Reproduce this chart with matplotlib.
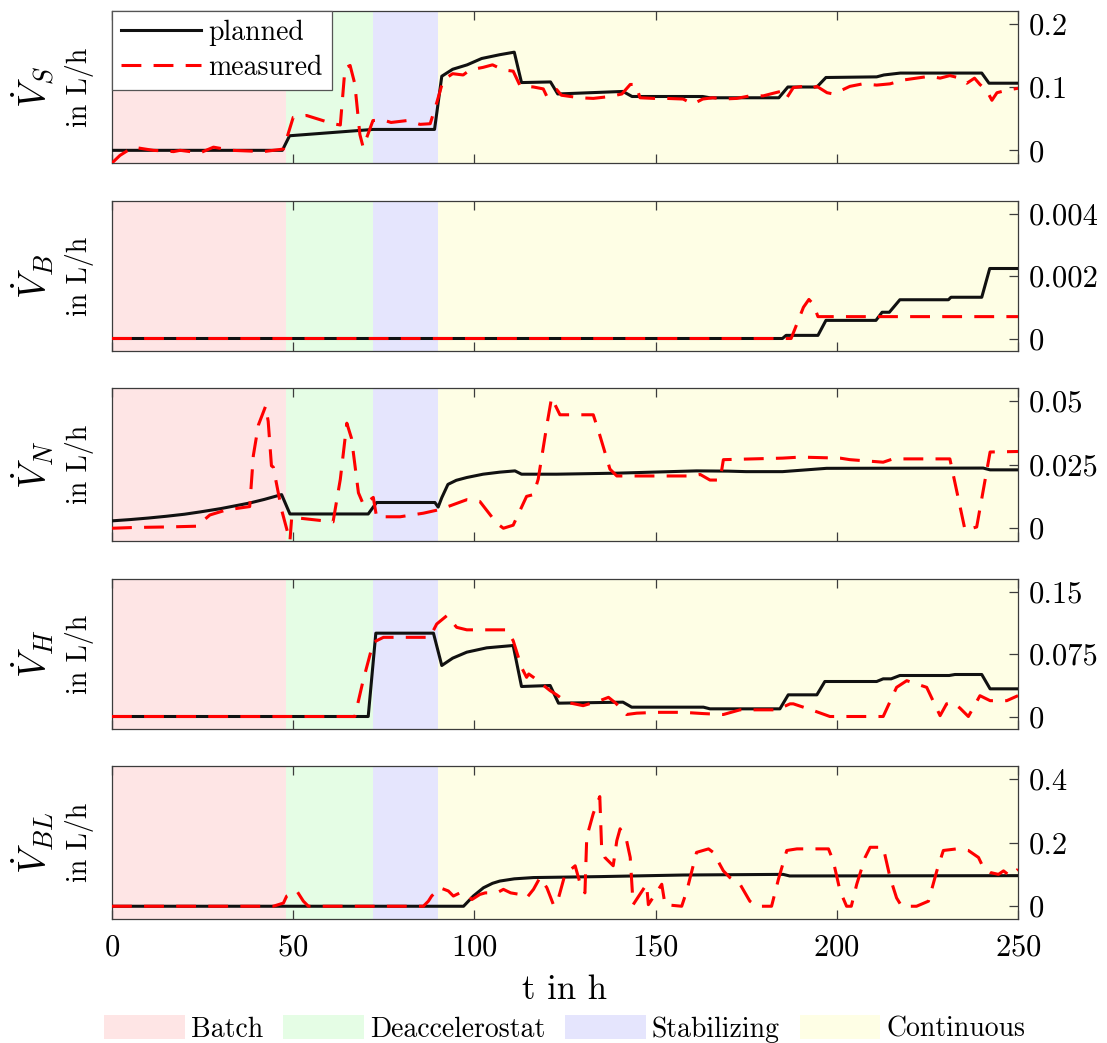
import matplotlib
matplotlib.use("Agg")
import matplotlib.pyplot as plt
from matplotlib.patches import Patch

plt.rcParams["font.family"] = "cmr10"
plt.rcParams["mathtext.fontset"] = "cm"
plt.rcParams["axes.formatter.use_mathtext"] = True

# ---------------------------------------------------------------- data
phases = ["Batch", "Deaccelerostat", "Stabilizing", "Continuous"]
phase_edges = [0, 48, 72, 90, 250]
phase_colors = ["#fee5e5", "#e5fde5", "#e5e5fd", "#fefee5"]

S_planned = [(0, 0), (47, 0), (49, 0.023), (72, 0.033), (89, 0.033), (91, 0.117),
             (94, 0.128), (98, 0.135), (102, 0.145), (107, 0.151), (111, 0.155),
             (113, 0.107), (121, 0.108), (123, 0.089), (141, 0.093), (143.5, 0.085),
             (163, 0.085), (165, 0.083), (184, 0.083), (186.5, 0.1), (194.5, 0.1),
             (197, 0.115), (211, 0.116), (213, 0.119), (217.5, 0.122), (240, 0.122),
             (242, 0.106), (250, 0.106)]
S_measured = [(0, -0.02), (2.2, -0.008), (5.8, 0.005), (11.4, 0.0), (17, -0.002),
              (18.8, 0.0), (24.3, -0.004), (28, 0.005), (33, 0.0), (41.8, -0.002),
              (44.5, 0.0), (47.3, 0.002), (50, 0.052), (53.7, 0.055), (56.5, 0.05),
              (61, 0.042), (63, 0.04), (64.3, 0.13), (65.7, 0.134), (67, 0.105),
              (68.4, 0.025), (69.3, 0.005), (70.6, 0.025), (72, 0.047), (74.8, 0.048),
              (77, 0.044), (81.4, 0.047), (85, 0.041), (87.8, 0.042), (89.6, 0.075),
              (91.4, 0.111), (94, 0.121), (96.9, 0.119), (98.8, 0.127), (102.4, 0.131),
              (105, 0.135), (108, 0.127), (110.7, 0.125), (112.6, 0.102), (116.3, 0.1),
              (119, 0.097), (120, 0.085), (122.7, 0.096), (124, 0.087), (129, 0.083),
              (132.8, 0.082), (137.4, 0.085), (140.7, 0.089), (143, 0.104),
              (144.5, 0.104), (145.7, 0.083), (149.4, 0.082), (153, 0.082),
              (157.6, 0.081), (160.3, 0.073), (163, 0.081), (165.8, 0.083),
              (168.6, 0.081), (172.4, 0.082), (176, 0.086), (179.7, 0.086),
              (182.4, 0.09), (185.2, 0.094), (186.2, 0.083), (188, 0.099),
              (190.7, 0.101), (192.6, 0.097), (194.5, 0.101), (197.3, 0.091),
              (199, 0.089), (201, 0.094), (203.6, 0.101), (207.2, 0.105), (211, 0.103),
              (214.7, 0.105), (218.3, 0.111), (222, 0.114), (225.7, 0.117),
              (228.5, 0.114), (231.2, 0.118), (234, 0.114), (235.9, 0.106),
              (238, 0.114), (239.5, 0.104), (241.4, 0.094), (242.8, 0.079),
              (244.2, 0.091), (247, 0.095), (250, 0.098)]

B_planned = [(0, 0), (185, 0), (186, 0.0001), (194.8, 0.0001), (197, 0.00058),
             (210.8, 0.00058), (212.5, 0.00084), (214.5, 0.00084), (217.4, 0.00124),
             (230.8, 0.00124), (231.5, 0.00132), (240, 0.00132), (242.2, 0.00224),
             (250, 0.00224)]
B_measured = [(0, 0), (187.4, 0), (190.8, 0.001), (192.3, 0.00125), (193.5, 0.0011),
              (194.8, 0.0007), (250, 0.0007)]

N_planned = [(0, 0.0029), (5, 0.0034), (10, 0.004), (15, 0.0047), (20, 0.0055),
             (24.3, 0.0064), (30, 0.0077), (34, 0.0088), (38, 0.0099), (42, 0.0113),
             (46.8, 0.0132), (49.1, 0.0056), (70.7, 0.0056), (73, 0.0101),
             (89.1, 0.0101), (90, 0.0083), (91, 0.012), (92.7, 0.0172), (95, 0.0188),
             (97.9, 0.0199), (102.4, 0.0212), (107, 0.022), (111.2, 0.0225),
             (113, 0.0212), (122.7, 0.0212), (139.3, 0.0216), (161.3, 0.0225),
             (170, 0.0224), (175, 0.0222), (185, 0.0222), (197.2, 0.0235),
             (240.4, 0.0236), (242.3, 0.0229), (250, 0.0229)]
N_measured = [(0, 0.0), (6, 0.0003), (15, 0.0005), (23.4, 0.0008), (27, 0.0052),
              (31.6, 0.0072), (38, 0.0085), (39, 0.0285), (40.4, 0.0405),
              (42.4, 0.0479), (43.1, 0.0419), (44, 0.0245), (44.5, 0.024),
              (46.8, 0.0072), (49.1, -0.005), (49.6, 0.0045), (51.5, 0.004),
              (61, 0.0025), (63, 0.0192), (64.8, 0.0412), (66.1, 0.0352), (68, 0.0139),
              (69.4, 0.0092), (72.1, 0.0121), (73, 0.0045), (79.5, 0.0045),
              (85.9, 0.0059), (90, 0.0072), (93.3, 0.0088), (97.9, 0.0112),
              (101.5, 0.0105), (106.2, 0.0019), (108, 0.0), (110.7, 0.0012),
              (114.4, 0.0125), (116.3, 0.0132), (117.6, 0.0192), (120, 0.0405),
              (121.3, 0.0512), (123.6, 0.0445), (132.8, 0.0445), (134.6, 0.0365),
              (137.4, 0.0232), (139.3, 0.0205), (160.4, 0.0205), (162.3, 0.0211),
              (165, 0.0189), (167.8, 0.0189), (168.7, 0.0269), (185, 0.0275),
              (189.9, 0.0279), (200.9, 0.0275), (203.6, 0.0269), (212.8, 0.0259),
              (215.5, 0.0272), (231.2, 0.0272), (235.4, -0.0008), (238.6, 0.0005),
              (242.3, 0.0299), (250, 0.0301)]

H_planned = [(0, 0), (70.7, 0), (72.8, 0.1), (88.7, 0.1), (91, 0.0612), (94, 0.07),
             (97.9, 0.0772), (103.4, 0.0824), (110.7, 0.0852), (113, 0.036),
             (120.9, 0.0372), (123.2, 0.016), (141, 0.0172), (143.4, 0.0112),
             (163.2, 0.0112), (165, 0.0092), (184.3, 0.0092), (186.6, 0.026),
             (194.5, 0.026), (196.7, 0.042), (211, 0.042), (212.8, 0.0452),
             (215, 0.0452), (217.4, 0.0492), (231, 0.0492), (232.6, 0.0504),
             (240, 0.0504), (242.3, 0.0332), (250, 0.0332)]
H_measured = [(0, 0), (67, 0), (69.3, 0.0432), (72.1, 0.089), (74.9, 0.095),
              (87.7, 0.095), (89.6, 0.111), (92.4, 0.121), (95.1, 0.107),
              (97.9, 0.104), (108.9, 0.104), (110.7, 0.091), (113, 0.059),
              (114.4, 0.047), (115, 0.051), (116.3, 0.047), (120.9, 0.031),
              (122.7, 0.026), (125.5, 0.017), (130, 0.013), (134.6, 0.019),
              (137, 0.023), (139, 0.016), (142, 0.0024), (144.8, 0.004),
              (150.3, 0.005), (157.6, 0.005), (163.2, 0.0035), (168.7, 0.0024),
              (173.3, 0.008), (183.4, 0.008), (187.1, 0.0152), (188, 0.0152),
              (193.5, 0.0072), (198.1, 0.0), (212.8, 0.0), (216.5, 0.035),
              (219.3, 0.043), (224.8, 0.035), (228.5, 0.001), (230.3, 0.0152),
              (232, 0.017), (234, 0.01), (236.3, 0.0), (239.5, 0.025),
              (242.3, 0.019), (246.9, 0.019), (250, 0.025)]

BL_planned = [(0, 0), (97, 0), (99.7, 0.032), (102.5, 0.058), (105, 0.072),
              (107, 0.079), (111, 0.086), (116.3, 0.09), (134.6, 0.093),
              (157.6, 0.098), (185.2, 0.1), (187, 0.095), (250, 0.096)]
BL_measured = [(0, 0), (44.5, 0), (47.3, 0.01), (48.2, 0.032), (51, 0.048),
               (52.8, 0.016), (54.2, 0), (85.9, 0), (87.3, 0.016), (88.2, 0.032),
               (90.5, 0.058), (92.8, 0.048), (94.2, 0.032), (96, 0.042),
               (97.9, 0.037), (99.3, 0.021), (101.5, 0.037), (103, 0.042),
               (106.2, 0.042), (108, 0.053), (110, 0.042), (112.6, 0.037),
               (114.4, 0.026), (116.3, 0.053), (118.1, 0.09), (120, 0.058),
               (121.8, 0.005), (122.7, 0.005), (125, 0.1), (127.8, 0.127),
               (129.1, 0.074), (130.5, 0.042), (131, 0.217), (132.8, 0.291),
               (134.6, 0.344), (135.1, 0.185), (136, 0.153), (138.3, 0.127),
               (139.3, 0.206), (140.2, 0.243), (142, 0.206), (143, 0.153),
               (143.8, 0.005), (147.5, 0.069), (148, 0.005), (151.7, 0.069),
               (152.6, 0.005), (157.2, 0.0), (158.6, 0.048), (161.3, 0.169),
               (164.6, 0.18), (165.9, 0.169), (168.7, 0.111), (170.5, 0.09),
               (173.3, 0.069), (176, 0.016), (177.9, 0), (182, 0), (183.9, 0.085),
               (186.2, 0.175), (189, 0.18), (197.7, 0.18), (199, 0.143),
               (200.9, 0.048), (202.7, 0), (204, 0), (205.5, 0.069), (207.8, 0.153),
               (209.2, 0.185), (212.8, 0.185), (214.7, 0.09), (216.5, 0.026),
               (217.9, 0), (222, 0), (225.3, 0.016), (227.6, 0.111), (229.4, 0.175),
               (233.1, 0.18), (236.3, 0.175), (239.1, 0.153), (240.4, 0.122),
               (242.3, 0.106), (244.6, 0.1), (246, 0.111), (247.8, 0.095),
               (250, 0.116)]

ylabels = [r"$\dot{V}_S$", r"$\dot{V}_B$", r"$\dot{V}_N$", r"$\dot{V}_H$", r"$\dot{V}_{BL}$"]
yticks = [[0, 0.1, 0.2], [0, 0.002, 0.004], [0, 0.025, 0.05], [0, 0.075, 0.15], [0, 0.2, 0.4]]
yticklabels = [["0", "0.1", "0.2"], ["0", "0.002", "0.004"], ["0", "0.025", "0.05"],
               ["0", "0.075", "0.15"], ["0", "0.2", "0.4"]]
xticks = [0, 50, 100, 150, 200, 250]
series = [(S_planned, S_measured), (B_planned, B_measured), (N_planned, N_measured),
          (H_planned, H_measured), (BL_planned, BL_measured)]

# ---------------------------------------------------------------- figure
W, H = 1107, 1043
fig = plt.figure(figsize=(W / 100, H / 100), dpi=100)

panel_px = [(11, 163), (201, 351), (388, 541), (579, 729), (766, 919)]
x0_px, x1_px = 112, 1018
spine_col = "#3c3c3c"

axes = []
for i, (top, bot) in enumerate(panel_px):
    ax = fig.add_axes([x0_px / W, 1 - bot / H, (x1_px - x0_px) / W, (bot - top) / H])
    axes.append(ax)
    for lo, hi, c in zip(phase_edges[:-1], phase_edges[1:], phase_colors):
        ax.axvspan(lo, hi, color=c, lw=0, zorder=0)

    planned, measured = series[i]
    tp, vp = zip(*planned)
    tm, vm = zip(*measured)
    ax.plot(tp, vp, color="#111111", lw=2.2, zorder=3, label="planned")
    ax.plot(tm, vm, color="#ff0000", lw=2.2, dashes=(6.5, 4), zorder=4, label="measured")

    ymax = yticks[i][-1]
    ax.set_xlim(0, 250)
    ax.set_ylim(-0.1 * ymax, 1.1 * ymax)
    ax.yaxis.tick_right()
    ax.set_yticks(yticks[i])
    ax.set_yticklabels(yticklabels[i])
    ax.set_xticks(xticks)
    ax.tick_params(axis="both", direction="in", length=6.5, width=0.9,
                   color=spine_col, labelsize=22)
    ax.tick_params(axis="x", top=True, bottom=True, pad=11)
    ax.tick_params(axis="y", left=False, right=True, pad=8)
    if i < 4:
        ax.set_xticklabels([])
    for sp in ax.spines.values():
        sp.set_color(spine_col)
        sp.set_linewidth(0.9)

    yc = 1 - (top + bot) / 2 / H
    fig.text(33 / W, yc, ylabels[i], rotation=90, ha="center", va="center", fontsize=27)
    fig.text(79 / W, yc, "in L/h", rotation=90, ha="center", va="center", fontsize=20)

leg = axes[0].legend(loc="upper left", borderaxespad=0, fontsize=20, handlelength=2.9,
                     handletextpad=0.25, labelspacing=0.3, borderpad=0.32,
                     fancybox=False, framealpha=1, edgecolor="#555555")
leg.get_frame().set_linewidth(0.9)
leg.set_zorder(10)

xc = (x0_px + x1_px) / 2 / W
fig.text(xc, 1 - 990 / H, "t in h", ha="center", va="center", fontsize=25)

handles = [Patch(facecolor=c, edgecolor="none") for c in phase_colors]
fig.legend(handles, phases, loc="center", bbox_to_anchor=(xc, 1 - 1029 / H), ncol=4,
           frameon=False, fontsize=20, handlelength=2.9, handleheight=0.95,
           handletextpad=0.22, columnspacing=0.72, borderpad=0)

fig.savefig("out.png", dpi=100)
